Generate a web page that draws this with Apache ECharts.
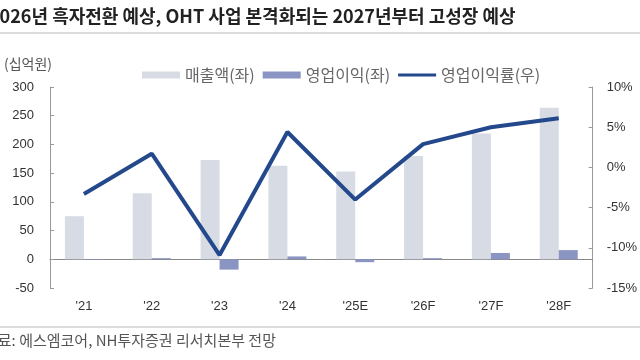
<!DOCTYPE html>
<html><head><meta charset="utf-8">
<script src="https://cdn.jsdelivr.net/npm/echarts@6/dist/echarts.min.js"></script>
<style>html,body{margin:0;padding:0;background:#fff}#c{width:640px;height:360px}</style>
</head><body><div id="c"></div>
<script>
const categories = ["'21","'22","'23","'24","'25E","'26F","'27F","'28F"];
const revenue = [75, 115, 173, 163, 153, 180, 219, 264];
const opProfit = [-1, 2, -18, 5, -5, 2, 11, 16];
const opMargin = [-3.3, 1.7, -10.9, 4.4, -4.0, 2.9, 5.0, 6.1];
const leftTicks = {min: -50, max: 300, interval: 50};
const rightTicks = {min: -15, max: 10, interval: 5};

const FONT = "'Liberation Sans Narrow','Liberation Sans',Arial,sans-serif";
const KFONT = "'Noto Sans CJK KR','Noto Sans',sans-serif";
const chart = echarts.init(document.getElementById('c'), null, {renderer: 'canvas'});
chart.setOption({
  animation: false,
  backgroundColor: '#fff',
  title: {
    text: '2026년 흑자전환 예상, OHT 사업 본격화되는 2027년부터 고성장 예상',
    left: -11, top: 7, padding: 0,
    textStyle: {fontFamily: KFONT, fontSize: 18, fontWeight: 'bold', color: '#222'}
  },
  graphic: [
    {type: 'rect', shape: {x: 0, y: 32, width: 640, height: 2}, style: {fill: '#dcdcdc'}},
    {type: 'rect', shape: {x: 0, y: 326, width: 640, height: 2}, style: {fill: '#dcdcdc'}},
    {type: 'text', left: 4, top: 57, style: {text: '(십억원)', font: '14px ' + KFONT, fill: '#555'}},
    {type: 'text', left: -16, top: 333, style: {text: '자료: 에스엠코어, NH투자증권 리서치본부 전망', font: '15px ' + KFONT, fill: '#555'}}
  ],
  legend: {
    left: 137, top: 62, itemGap: 8, itemWidth: 38, itemHeight: 7,
    textStyle: {fontFamily: KFONT, fontSize: 16, color: '#666'},
    data: [
      {name: '매출액(좌)', icon: 'rect'},
      {name: '영업이익(좌)', icon: 'rect'},
      {name: '영업이익률(우)', icon: 'path://M0,0 L40,0 L40,3.2 L0,3.2 Z'}
    ]
  },
  grid: {left: 50, right: 46, top: 87, bottom: 72},
  xAxis: {
    type: 'category', data: categories,
    axisLine: {onZero: true, lineStyle: {color: '#888', width: 1}},
    axisTick: {inside: true, length: 4, lineStyle: {color: '#888'}},
    axisLabel: {margin: 12, fontFamily: FONT, fontSize: 13, color: '#333'}
  },
  yAxis: [
    {type: 'value', min: leftTicks.min, max: leftTicks.max, interval: leftTicks.interval,
     splitLine: {show: false},
     axisLine: {show: true, onZero: false, lineStyle: {color: '#999'}},
     axisTick: {show: true, inside: true, length: 4, lineStyle: {color: '#999'}},
     axisLabel: {margin: 16, fontFamily: FONT, fontSize: 13, color: '#333'}},
    {type: 'value', min: rightTicks.min, max: rightTicks.max, interval: rightTicks.interval,
     position: 'right', splitLine: {show: false},
     axisLine: {show: true, onZero: false, lineStyle: {color: '#999'}},
     axisTick: {show: true, inside: true, length: 4, lineStyle: {color: '#999'}},
     axisLabel: {margin: 14, formatter: '{value}%', fontFamily: FONT, fontSize: 13, color: '#333'}}
  ],
  series: [
    {name: '매출액(좌)', type: 'bar', data: revenue, barWidth: 19, barGap: '0%',
     itemStyle: {color: '#d7dbe4'}},
    {name: '영업이익(좌)', type: 'bar', data: opProfit, barWidth: 19,
     itemStyle: {color: '#8a95c3'}},
    {name: '영업이익률(우)', type: 'line', yAxisIndex: 1, data: opMargin,
     symbol: 'none', lineStyle: {color: '#23488b', width: 4}, itemStyle: {color: '#23488b'}}
  ]
});
</script></body></html>
